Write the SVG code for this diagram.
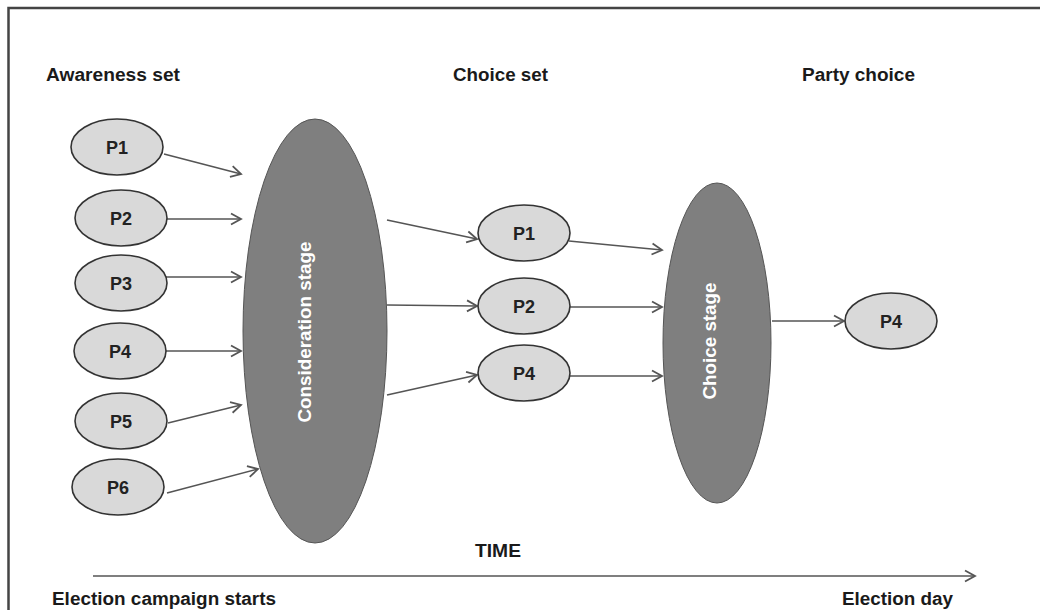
<svg xmlns="http://www.w3.org/2000/svg" width="1040" height="610" viewBox="0 0 1040 610">
<defs>
<marker id="arr" markerUnits="userSpaceOnUse" markerWidth="14" markerHeight="14" viewBox="0 0 14 14" refX="12" refY="7" orient="auto">
<path d="M2,1.5 L12,7 L2,12.5" fill="none" stroke="#555" stroke-width="1.8"/>
</marker>
</defs>
<style>
.frame{stroke:#444;stroke-width:2.5;fill:none}
.p{fill:#d9d9d9;stroke:#333;stroke-width:1.6}
.big{fill:#7f7f7f;stroke:#555;stroke-width:1}
.lab{font-family:"Liberation Sans",Arial,sans-serif;font-weight:bold;fill:#1a1a1a}
.pl{font-family:"Liberation Sans",Arial,sans-serif;font-weight:bold;font-size:18px;fill:#222;text-anchor:middle}
.bl{font-family:"Liberation Sans",Arial,sans-serif;font-weight:bold;font-size:18px;fill:#fff;text-anchor:middle}
.c{stroke:#555;stroke-width:1.6;fill:none;marker-end:url(#arr)}
</style>
<rect width="1040" height="610" fill="#fff"/>
<path class="frame" d="M8.5,610 L8.5,8 L1040,8"/>

<g id="headers">
<text class="lab" x="46" y="81" font-size="18" textLength="134" lengthAdjust="spacingAndGlyphs">Awareness set</text>
<text class="lab" x="453" y="81" font-size="18" textLength="95" lengthAdjust="spacingAndGlyphs">Choice set</text>
<text class="lab" x="802" y="81" font-size="18" textLength="113" lengthAdjust="spacingAndGlyphs">Party choice</text>
<text class="lab" x="475" y="557" font-size="18" textLength="46" lengthAdjust="spacingAndGlyphs">TIME</text>
<text class="lab" x="52" y="605" font-size="18" textLength="224" lengthAdjust="spacingAndGlyphs">Election campaign starts</text>
<text class="lab" x="842" y="605" font-size="18" textLength="111" lengthAdjust="spacingAndGlyphs">Election day</text>
</g>

<g id="connectors">
<line class="c" x1="164" y1="154" x2="241" y2="174"/>
<line class="c" x1="167" y1="219" x2="241" y2="219"/>
<line class="c" x1="166" y1="277" x2="241" y2="277"/>
<line class="c" x1="166" y1="351" x2="241" y2="351"/>
<line class="c" x1="168" y1="423" x2="241" y2="405"/>
<line class="c" x1="167" y1="493" x2="258" y2="469"/>
<line class="c" x1="387" y1="220" x2="477" y2="239"/>
<line class="c" x1="387" y1="305" x2="477" y2="306"/>
<line class="c" x1="387" y1="395" x2="477" y2="375"/>
<line class="c" x1="569" y1="241" x2="662" y2="250"/>
<line class="c" x1="570" y1="307" x2="662" y2="307"/>
<line class="c" x1="570" y1="376" x2="662" y2="376"/>
<line class="c" x1="772" y1="321" x2="844" y2="321"/>
<line class="c" x1="93" y1="576" x2="975" y2="576"/>
</g>

<g id="a1"><ellipse class="p" cx="117" cy="147" rx="46" ry="28"/><text class="pl" x="117" y="154">P1</text></g>
<g id="a2"><ellipse class="p" cx="121" cy="218" rx="46" ry="28"/><text class="pl" x="121" y="225">P2</text></g>
<g id="a3"><ellipse class="p" cx="121" cy="283" rx="46" ry="28"/><text class="pl" x="121" y="290">P3</text></g>
<g id="a4"><ellipse class="p" cx="120" cy="351" rx="46" ry="28"/><text class="pl" x="120" y="358">P4</text></g>
<g id="a5"><ellipse class="p" cx="121" cy="421" rx="46" ry="28"/><text class="pl" x="121" y="428">P5</text></g>
<g id="a6"><ellipse class="p" cx="118" cy="487" rx="46" ry="28"/><text class="pl" x="118" y="494">P6</text></g>

<g id="consideration"><ellipse class="big" cx="315" cy="331" rx="72" ry="212"/><text class="bl" transform="translate(311,332) rotate(-90)" textLength="181" lengthAdjust="spacingAndGlyphs">Consideration stage</text></g>

<g id="c1"><ellipse class="p" cx="524" cy="233" rx="46" ry="28"/><text class="pl" x="524" y="240">P1</text></g>
<g id="c2"><ellipse class="p" cx="524" cy="306" rx="46" ry="28"/><text class="pl" x="524" y="313">P2</text></g>
<g id="c4"><ellipse class="p" cx="524" cy="373" rx="46" ry="28"/><text class="pl" x="524" y="380">P4</text></g>

<g id="choice"><ellipse class="big" cx="717" cy="343" rx="54" ry="160"/><text class="bl" transform="translate(716,341) rotate(-90)" textLength="117" lengthAdjust="spacingAndGlyphs">Choice stage</text></g>

<g id="party"><ellipse class="p" cx="891" cy="321" rx="46" ry="28"/><text class="pl" x="891" y="328">P4</text></g>
</svg>
